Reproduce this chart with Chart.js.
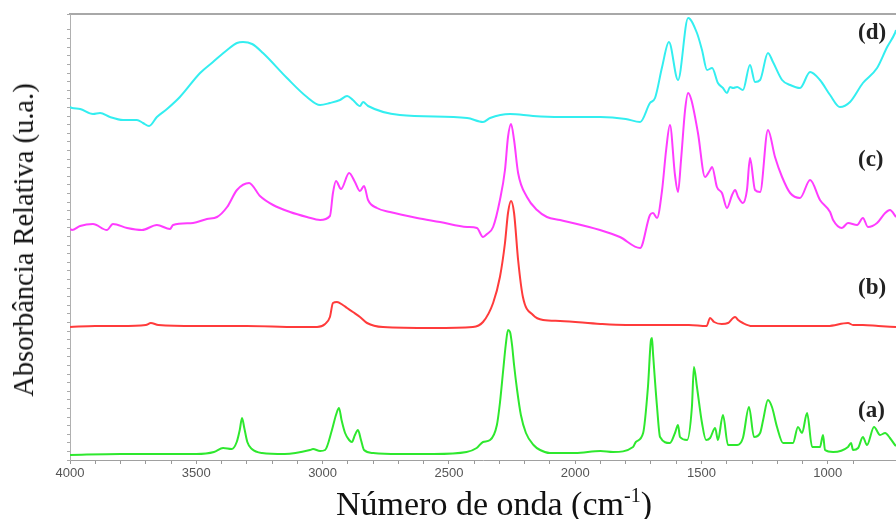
<!DOCTYPE html>
<html>
<head>
<meta charset="utf-8">
<script src="https://cdn.jsdelivr.net/npm/chart.js@4.4.0/dist/chart.umd.min.js"></script>
<style>
html,body{margin:0;padding:0;background:#fff;overflow:hidden}
#wrap{position:relative;width:896px;height:519px}
#c{position:absolute;left:0;top:0}
.ytitle{position:absolute;left:24px;top:240px;transform:translate(-50%,-50%) rotate(-90deg);
  font:28.5px "Liberation Serif",serif;line-height:28px;white-space:nowrap;color:#111}
.xtitle{position:absolute;left:494px;top:487px;transform:translateX(-50%);
  font:34px "Liberation Serif",serif;white-space:nowrap;color:#111;line-height:34px}
.xtitle sup{font-size:20px;vertical-align:13px;line-height:0}
.lbl{position:absolute;left:858px;transform:translateY(-50%);font:bold 23px "Liberation Serif",serif;color:#222}
</style>
</head>
<body>
<div id="wrap">
  <canvas id="c" width="896" height="519"></canvas>
  <div class="ytitle">Absorbância Relativa (u.a.)</div>
  <div class="xtitle">Número de onda (cm<sup>-1</sup>)</div>
  <div class="lbl" style="top:32px">(d)</div>
  <div class="lbl" style="top:159px">(c)</div>
  <div class="lbl" style="top:287px">(b)</div>
  <div class="lbl" style="top:410px">(a)</div>
</div>
<script>
/* ---- dados: [número de onda (cm-1), absorbância relativa] ---- */
const X_MIN = 730, X_MAX = 4000;
const Y_MIN = 0, Y_MAX = 446;
const X_LABELS = [4000, 3500, 3000, 2500, 2000, 1500, 1000];

// (a) verde
const specA = [
  [4000,5],[3800,6],[3650,6],[3500,6],[3430,8],[3394,12],[3360,11],[3340,18],[3328,30],[3319,42],
  [3310,32],[3298,18],[3280,11],[3240,7],[3150,6],[3050,10],[3038,11],[3010,9],[2990,10],[2963,30],
  [2947,45],[2935,52],[2925,40],[2911,27],[2895,20],[2884,18],[2872,25],[2860,30],[2848,20],[2836,10],
  [2800,7],[2700,6],[2560,6],[2430,8],[2390,12],[2365,18],[2337,20],[2310,35],[2298,57],[2285,90],
  [2275,115],[2266,130],[2258,128],[2250,115],[2242,95],[2230,70],[2215,45],[2195,27],[2165,15],[2139,10],
  [2100,7],[2000,7],[1900,9],[1850,8],[1771,13],[1760,18],[1731,27],[1712,73],[1700,120],[1696,122],
  [1692,107],[1676,53],[1664,23],[1625,17],[1605,27],[1593,35],[1585,23],[1557,20],[1538,53],[1530,93],
  [1518,73],[1498,37],[1482,20],[1466,22],[1446,32],[1435,20],[1415,45],[1395,15],[1359,15],[1336,22],
  [1312,53],[1292,23],[1268,27],[1256,40],[1237,60],[1221,53],[1201,33],[1177,17],[1138,17],[1118,33],
  [1102,27],[1082,47],[1062,13],[1031,13],[1019,25],[1011,10],[979,8],[920,13],[908,17],[900,10],
  [880,12],[861,23],[845,15],[817,33],[793,25],[773,27],[754,22],[734,15],[730,14]
];
// (b) vermelho
const specB = [
  [4000,133],[3900,134],[3800,134],[3700,135],[3680,137],[3650,135],[3500,134],[3300,134],[3100,133],
  [3022,133],[2990,136],[2971,143],[2959,157],[2943,158],[2920,155],[2903,152],[2880,148],[2852,143],
  [2824,137],[2761,133],[2563,132],[2405,133],[2365,138],[2325,157],[2298,183],[2278,217],[2266,247],
  [2254,259],[2242,247],[2226,200],[2207,163],[2167,145],[2127,140],[2060,139],[1900,136],[1800,135],
  [1700,135],[1550,135],[1480,134],[1466,142],[1450,138],[1420,136],[1395,137],[1375,142],[1367,143],
  [1355,140],[1336,137],[1300,134],[1200,134],[1000,134],[920,137],[900,135],[861,135],[800,134],[730,133]
];
// (c) magenta
const specC = [
  [4000,231],[3992,230],[3960,234],[3909,236],[3854,230],[3830,236],[3774,232],[3715,230],[3656,235],
  [3604,231],[3592,235],[3513,237],[3458,241],[3418,243],[3378,253],[3339,270],[3291,277],[3248,264],
  [3196,255],[3129,248],[3062,243],[3010,240],[2971,244],[2959,267],[2947,279],[2927,271],[2895,287],
  [2872,278],[2852,269],[2836,274],[2820,260],[2785,252],[2733,248],[2626,242],[2535,238],[2428,233],
  [2389,232],[2365,223],[2349,226],[2325,233],[2298,260],[2278,290],[2266,323],[2254,336],[2242,320],
  [2226,287],[2191,263],[2151,250],[2112,243],[2060,240],[1902,230],[1823,223],[1743,212],[1704,245],
  [1692,247],[1676,242],[1656,270],[1640,310],[1625,335],[1605,285],[1593,268],[1581,300],[1565,350],
  [1553,367],[1540,360],[1514,327],[1486,283],[1466,290],[1458,293],[1439,273],[1419,267],[1399,252],
  [1379,265],[1367,270],[1355,263],[1336,257],[1320,270],[1308,302],[1288,270],[1268,268],[1237,330],
  [1209,303],[1181,283],[1149,267],[1110,262],[1070,280],[1031,260],[991,248],[979,240],[944,232],
  [920,237],[884,235],[861,242],[841,233],[805,237],[773,247],[754,250],[730,243]
];
// (d) ciano
const specD = [
  [4000,353],[3992,352],[3960,351],[3909,346],[3881,347],[3842,343],[3790,340],[3735,340],[3711,337],
  [3687,334],[3656,343],[3616,351],[3565,363],[3485,387],[3434,398],[3378,410],[3339,417],[3315,418],
  [3279,416],[3236,407],[3141,382],[3062,363],[3010,355],[2971,357],[2931,360],[2903,364],[2880,360],
  [2852,354],[2840,358],[2820,354],[2694,345],[2428,342],[2365,338],[2337,342],[2258,346],[2167,344],
  [2060,343],[1900,343],[1800,341],[1743,338],[1704,357],[1684,362],[1656,393],[1629,418],[1593,380],
  [1553,442],[1518,427],[1498,410],[1478,390],[1458,392],[1435,377],[1415,372],[1399,367],[1387,373],
  [1375,372],[1359,373],[1336,370],[1308,395],[1288,378],[1268,380],[1237,407],[1217,398],[1181,380],
  [1149,375],[1110,372],[1070,388],[1031,380],[991,365],[952,353],[912,358],[861,377],[805,392],
  [765,413],[734,427],[730,430]
];

const toXY = s => s.map(p => ({x:p[0], y:p[1]}));
const line = (data, color) => ({
  data: toXY(data), borderColor: color, borderWidth: 2, pointRadius: 0,
  fill: false, cubicInterpolationMode: 'monotone'
});

new Chart(document.getElementById('c'), {
  type: 'line',
  data: { datasets: [
    line(specA, '#2ee82e'),
    line(specB, '#ff3b3b'),
    line(specC, '#ff3cff'),
    line(specD, '#33eef0')
  ]},
  options: {
    responsive: false, animation: false, events: [],
    layout: { padding: 0 },
    plugins: { legend: {display:false}, tooltip: {enabled:false} },
    scales: {
      x: {
        type: 'linear', reverse: true, min: X_MIN, max: X_MAX,
        afterFit: s => { s.height = 59; },
        afterBuildTicks: s => { s.ticks = s.ticks.filter(t => t.value % 100 === 0); },
        ticks: { stepSize: 100, autoSkip: false, maxRotation: 0, padding: 2, color: '#555',
          font: {family: '"Liberation Sans", Arial, sans-serif', size: 13},
          callback: v => X_LABELS.includes(v) ? String(v) : '' },
        grid: { drawOnChartArea: false, tickLength: 4, color: '#999' },
        border: { color: '#a0a0a0', width: 1 }
      },
      xTop: {
        type: 'linear', position: 'top', min: X_MIN, max: X_MAX,
        afterFit: s => { s.height = 14; },
        ticks: { display: false }, grid: { display: false },
        border: { color: '#a8a8a8', width: 2 }
      },
      y: {
        min: Y_MIN, max: Y_MAX,
        afterFit: s => { s.width = 70; },
        ticks: { stepSize: 8.6, display: false },
        grid: { drawOnChartArea: false, tickLength: 3, color: '#aaa' },
        border: { color: '#b0b0b0', width: 1 }
      }
    }
  }
});
</script>
</body>
</html>
